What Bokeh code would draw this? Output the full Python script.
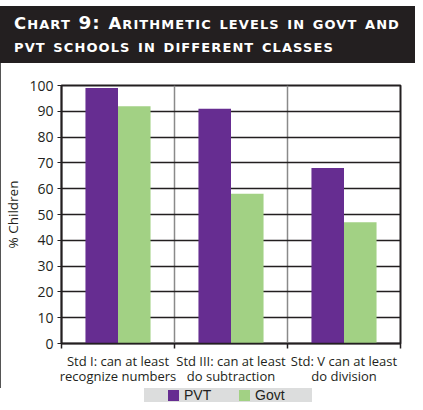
from bokeh.plotting import figure
from bokeh.models import FixedTicker, Div, Range1d
from bokeh.layouts import column
from bokeh.embed import file_html
from bokeh.resources import INLINE

title_lines = ["Chart 9: Arithmetic levels in govt and", "pvt schools in different classes"]
categories = ["Std I: can at least\nrecognize numbers",
              "Std III: can at least\ndo subtraction",
              "Std: V can at least\ndo division"]
series = ["PVT", "Govt"]
pvt = [99, 91, 68]
govt = [92, 58, 47]
y_ticks = list(range(0, 101, 10))
y_label = "% Children"

colors = ["#662d91", "#a2d184"]
ink = "#231f20"
bw = 0.288
n = len(categories)
centers = [i + 0.5 for i in range(n)]


def small_caps_line(line):
    out = []
    for w in line.split(" "):
        if w and w[0].isupper():
            out.append('<span style="font-size:16.5px;">' + w[0] + "</span>" + w[1:])
        else:
            out.append(w)
    return " ".join(out)


title_html = "<br>".join(small_caps_line(l) for l in title_lines)

div = Div(
    text=('<div style="margin-top:6px;background:#231f20;color:#ffffff;'
          'font-family:\'DejaVu Sans\';font-weight:bold;font-variant:small-caps;'
          'font-size:18.5px;line-height:22px;padding:6px 0 0 14px;width:415px;'
          'height:57px;box-sizing:border-box;white-space:nowrap;letter-spacing:1.1px;">'
          + title_html + "</div>"),
    width=415, height=63, margin=0)

p = figure(width=413, height=325, output_backend="svg", toolbar_location=None,
           x_range=Range1d(0, n), y_range=Range1d(0, 100),
           min_border_left=55, min_border_right=14, min_border_top=22,
           min_border_bottom=40, margin=0)
p.styles = {"border-left": "1.5px solid #555555"}

r1 = p.vbar(x=[c - bw / 2 for c in centers], top=pvt, width=bw, color=colors[0], line_color=None)
r2 = p.vbar(x=[c + bw / 2 for c in centers], top=govt, width=bw, color=colors[1], line_color=None)

p.outline_line_color = ink
p.outline_line_width = 2
p.outline_line_alpha = 1

# x axis
xa = p.xaxis[0]
xa.ticker = FixedTicker(ticks=centers, minor_ticks=list(range(n + 1)))
xa.major_label_overrides = {c: lab for c, lab in zip(centers, categories)}
xa.major_tick_out = 0
xa.major_tick_in = 0
xa.minor_tick_out = 5
xa.minor_tick_in = 0
xa.minor_tick_line_color = ink
xa.minor_tick_line_width = 1.5
xa.axis_line_color = ink
xa.axis_line_width = 1.5
xa.major_label_text_font = "Open Sans"
xa.major_label_text_font_size = "13px"
xa.major_label_text_line_height = 0.88
xa.major_label_text_color = ink
xa.major_label_standoff = 3

# y axis
ya = p.yaxis[0]
ya.ticker = FixedTicker(ticks=y_ticks)
ya.major_tick_out = 4
ya.major_tick_in = 0
ya.minor_tick_out = 0
ya.minor_tick_in = 0
ya.major_tick_line_color = ink
ya.axis_line_color = ink
ya.axis_line_width = 1.5
ya.major_label_text_font = "Open Sans"
ya.major_label_text_font_size = "14px"
ya.major_label_text_color = ink
ya.major_label_standoff = 4
ya.axis_label = y_label
ya.axis_label_text_font = "Open Sans"
ya.axis_label_text_font_style = "normal"
ya.axis_label_text_font_size = "13.5px"
ya.axis_label_text_color = ink
ya.axis_label_standoff = 4

# grids
p.xgrid.ticker = FixedTicker(ticks=list(range(n + 1)))
p.xgrid.grid_line_color = "#8a8a8a"
p.xgrid.grid_line_width = 1.5
p.ygrid.ticker = FixedTicker(ticks=y_ticks)
p.ygrid.grid_line_color = "#231f20"
p.ygrid.grid_line_width = 1.5

# legend (HTML strip below the figure)
swatch_x = [24, 95]
text_x = [40, 111]
items = ""
for name, col, sx, tx in zip(series, colors, swatch_x, text_x):
    items += ('<div style="position:absolute;left:%dpx;top:2px;width:11px;height:11px;'
              'background:%s;"></div>' % (sx, col))
    items += ('<div style="position:absolute;left:%dpx;top:0px;">%s</div>' % (tx, name))
legend_div = Div(
    text=('<div style="position:relative;margin-left:144px;width:168px;height:14px;'
          'background:#dcdddd;font-family:\'Liberation Sans\';font-size:14px;'
          'line-height:15px;color:#231f20;">' + items + "</div>"),
    width=415, height=14, margin=0)

layout = column(div, p, legend_div, spacing=0, margin=0)
open("out.html", "w").write(file_html(layout, INLINE))
